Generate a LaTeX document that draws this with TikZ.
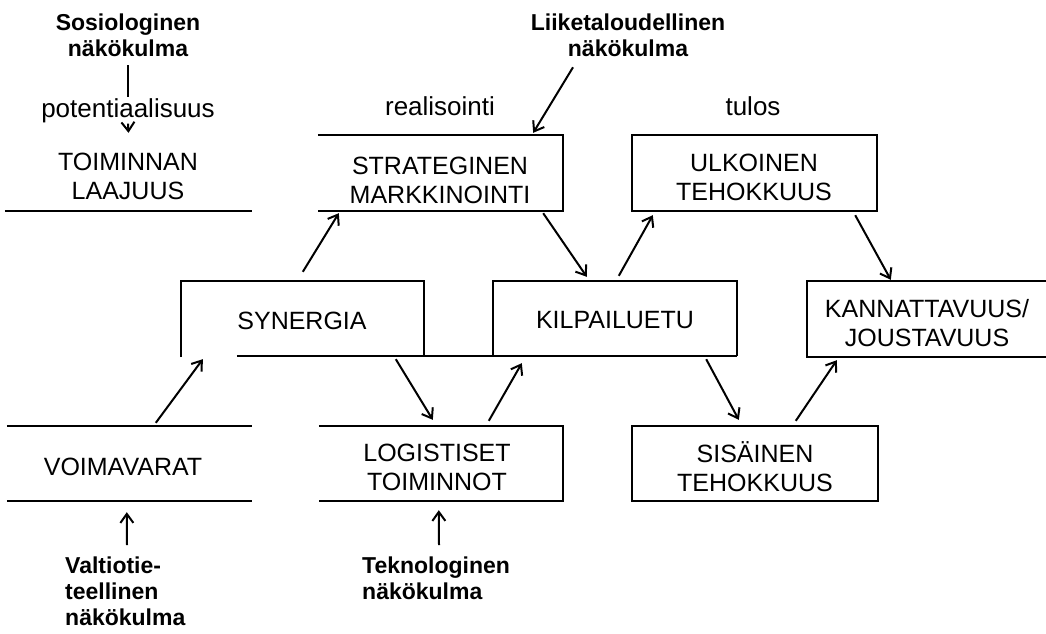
\documentclass[tikz,border=0pt]{standalone}
\usepackage{fontspec}
\setmainfont{Liberation Sans}
\usetikzlibrary{arrows.meta}
\begin{document}
\begin{tikzpicture}[x=1pt,y=-1pt,
  boxline/.style={line width=2.2pt},
  arr/.style={line width=2pt,-{Straight Barb[length=9pt,width=13pt]}},
  plainline/.style={line width=2pt},
  area/.style={inner sep=0pt,draw=none},
  boxtext/.style={font=\fontsize{25}{29}\selectfont,align=center,inner sep=0pt},
  labeltext/.style={font=\fontsize{26}{30}\selectfont,inner sep=0pt},
  viewtext/.style={font=\bfseries\fontsize{23}{26}\selectfont,inner sep=0pt}]
\useasboundingbox (0,0) rectangle (1046,633);

% box areas
\node[area,minimum width=247pt,minimum height=76pt] (toimbox) at (128.5,173) {};
\node[area,minimum width=245pt,minimum height=76pt] (stratbox) at (440.5,173) {};
\node[area,minimum width=245pt,minimum height=76pt] (ulkbox) at (754.5,173) {};
\node[area,minimum width=243pt,minimum height=75pt] (synbox) at (302.5,318.5) {};
\node[area,minimum width=244pt,minimum height=75pt] (kilbox) at (615,318.5) {};
\node[area,minimum width=239pt,minimum height=76pt] (kanbox) at (926.5,319) {};
\node[area,minimum width=245pt,minimum height=75pt] (voimbox) at (129.5,463.5) {};
\node[area,minimum width=244pt,minimum height=75pt] (logbox) at (441,463.5) {};
\node[area,minimum width=246pt,minimum height=75pt] (sisbox) at (755,463.5) {};

% box borders
\draw[boxline] (toimbox.south west) -- (toimbox.south east);
\draw[boxline] (stratbox.north west) -- (stratbox.north east) -- (stratbox.south east) -- (stratbox.south west);
\draw[boxline] (ulkbox.north west) rectangle (ulkbox.south east);
\draw[boxline] ([yshift=-1pt]synbox.south west) -- (synbox.north west) -- (synbox.north east) -- (synbox.south east);
\draw[boxline] ([xshift=56pt]synbox.south west) -- (kilbox.south east);
\draw[boxline] (kilbox.south west) -- (kilbox.north west) -- (kilbox.north east) -- (kilbox.south east);
\draw[boxline] (kanbox.north east) -- (kanbox.north west) -- (kanbox.south west) -- (kanbox.south east);
\draw[boxline] (voimbox.north west) -- (voimbox.north east);
\draw[boxline] (voimbox.south west) -- (voimbox.south east);
\draw[boxline] (logbox.north west) -- (logbox.north east) -- (logbox.south east) -- (logbox.south west);
\draw[boxline] (sisbox.north west) rectangle (sisbox.south east);

% box texts
\node[boxtext] (toim) at (128,176) {TOIMINNAN\\LAAJUUS};
\node[boxtext] (strat) at (440,180) {STRATEGINEN\\MARKKINOINTI};
\node[boxtext] (ulk) at (754,177) {ULKOINEN\\TEHOKKUUS};
\node[boxtext] (syn) at (302,321) {SYNERGIA};
\node[boxtext] (kil) at (615,320) {KILPAILUETU};
\node[boxtext] (kan) at (927,323.5) {KANNATTAVUUS/\\JOUSTAVUUS};
\node[boxtext] (voim) at (123,467) {VOIMAVARAT};
\node[boxtext] (log) at (437,467) {LOGISTISET\\TOIMINNOT};
\node[boxtext] (sis) at (755,467) {SISÄINEN\\TEHOKKUUS};

% labels
\node[labeltext,anchor=base] (pot) at (128,117) {potentiaalisuus};
\node[labeltext,anchor=base] (real) at (440,115) {realisointi};
\node[labeltext,anchor=base] (tulos) at (753,115) {tulos};

% viewpoints
\node[viewtext,align=center,anchor=north] (sos) at (128,14) {Sosiologinen\\näkökulma};
\node[viewtext,align=center,anchor=north] (liik) at (628,14) {Liiketaloudellinen\\näkökulma};
\node[viewtext,align=left,anchor=north west] (valt) at (65,557) {Valtiotie-\\teellinen\\näkökulma};
\node[viewtext,align=left,anchor=north west] (tekn) at (362,557) {Teknologinen\\näkökulma};

% connectors
\draw[plainline] ([yshift=-8pt]sos.south) -- ([yshift=1pt]pot.north);
\draw[arr] ([yshift=-1pt]pot.south) -- ([yshift=2pt]toimbox.north);
\draw[arr] ([xshift=-55pt,yshift=-10pt]liik.south) -- ([xshift=-30pt,yshift=2pt]stratbox.north east);
\draw[arr] ([xshift=122pt,yshift=9pt]synbox.north west) -- ([xshift=21pt,yshift=-2pt]stratbox.south west);
\draw[arr] ([xshift=-20pt,yshift=-2pt]stratbox.south east) -- ([xshift=94pt,yshift=4pt]kilbox.north west);
\draw[arr] ([xshift=126pt,yshift=5pt]kilbox.north west) -- ([xshift=21pt,yshift=-4pt]ulkbox.south west);
\draw[arr] ([xshift=-22pt,yshift=-4pt]ulkbox.south east) -- ([xshift=84pt,yshift=1pt]kanbox.north west);
\draw[arr] ([xshift=149pt,yshift=3pt]voimbox.north west) -- ([xshift=22pt,yshift=-3pt]synbox.south west);
\draw[arr] ([xshift=215pt,yshift=-3pt]synbox.south west) -- ([xshift=114pt,yshift=6pt]logbox.north west);
\draw[arr] ([xshift=170pt,yshift=5pt]logbox.north west) -- ([xshift=29pt,yshift=-7pt]kilbox.south west);
\draw[arr] ([xshift=-31pt,yshift=-3pt]kilbox.south east) -- ([xshift=107pt,yshift=6pt]sisbox.north west);
\draw[arr] ([xshift=164pt,yshift=5pt]sisbox.north west) -- ([xshift=30pt,yshift=-3pt]kanbox.south west);
\draw[arr] ([xshift=62pt,yshift=12pt]valt.north west) -- ([xshift=120pt,yshift=-11pt]voimbox.south west);
\draw[arr] ([xshift=77pt,yshift=12pt]tekn.north west) -- ([xshift=120pt,yshift=-9pt]logbox.south west);
\end{tikzpicture}
\end{document}
